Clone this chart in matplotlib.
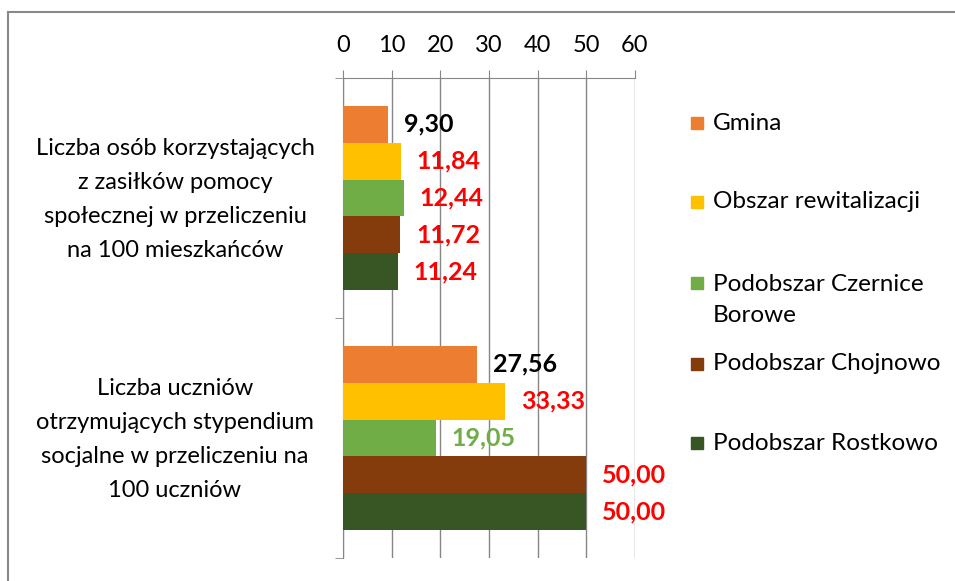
import numpy as np
from matplotlib import pyplot as plt
from matplotlib.patches import Rectangle
from matplotlib.lines import Line2D
from matplotlib.transforms import ScaledTranslation

plt.rcParams['font.family'] = ['Lato', 'DejaVu Sans']

categories = ["Liczba osób korzystających\nz zasiłków pomocy\nspołecznej w przeliczeniu\nna 100 mieszkańców",
              "Liczba uczniów\notrzymujących stypendium\nsocjalne w przeliczeniu na\n100 uczniów"]
series = ["Gmina", "Obszar rewitalizacji", "Podobszar Czernice\nBorowe",
          "Podobszar Chojnowo", "Podobszar Rostkowo"]
gmina = [9.30, 27.56]
obszar = [11.84, 33.33]
czernice = [12.44, 19.05]
chojnowo = [11.72, 50.00]
rostkowo = [11.24, 50.00]
values = [gmina, obszar, czernice, chojnowo, rostkowo]

colors = ["#ED7D31", "#FFC000", "#70AD47", "#843C0C", "#375623"]
label_colors = [["black", "black"], ["#FF0000", "#FF0000"], ["#FF0000", "#70AD47"],
                ["#FF0000", "#FF0000"], ["#FF0000", "#FF0000"]]

fig = plt.figure(figsize=(9.55, 5.81), dpi=100)
ax = fig.add_axes([343/955, 1-558/581, (635-343)/955, (558-78)/581])

hh = 0.1533
y0 = np.arange(len(categories))
for i, (vals, c) in enumerate(zip(values, colors)):
    ypos = y0 - 2*hh + i*hh
    ax.barh(ypos, vals, height=hh, color=c, zorder=3)
    for y, v, lc in zip(ypos, vals, label_colors[i]):
        ax.annotate(f"{v:.2f}".replace(".", ","), (v, y), xytext=(11.5, 0),
                    textcoords="offset points", va="center", ha="left",
                    fontsize=18, fontweight="bold", color=lc)

ax.set_xlim(0, 60)
ax.set_ylim(1.5, -0.5)
ax.set_xticks(np.arange(0, 61, 10))
ax.xaxis.tick_top()
ax.tick_params(axis="x", length=6, color="#868686", labelsize=17, pad=10)
ax.grid(axis="x", color="#868686", linewidth=1, zorder=0)

ax.set_yticks(y0)
ax.set_yticklabels(categories, ha="center", ma="center", fontsize=17, linespacing=1.75)
ax.tick_params(axis="y", length=0, pad=121)
ax.set_yticks([-0.5, 0.5, 1.5], minor=True)
ax.tick_params(axis="y", which="minor", length=6, color="#868686")
for lbl in ax.get_yticklabels():
    lbl.set_transform(lbl.get_transform() + ScaledTranslation(0, 5/72, fig.dpi_scale_trans))

for s in ["right", "bottom"]:
    ax.spines[s].set_visible(False)
for s in ["top", "left"]:
    ax.spines[s].set_color("#868686")

# legend
leg_y = [123, 202, 283, 364, 443]
for name, c, ly in zip(series, colors, leg_y):
    fig.patches.append(Rectangle((691/955, 1-(ly+6)/581), 12/955, 12/581,
                                 transform=fig.transFigure, color=c, figure=fig))
    if "\n" in name:
        fig.text(713/955, 1-(ly-9)/581, name, fontsize=17.5, va="top", linespacing=1.6)
    else:
        fig.text(713/955, 1-ly/581, name, fontsize=17.5, va="center")

# frame
fig.add_artist(Line2D([7.5/955, 1], [1-11.5/581]*2, color="#898989", lw=1.5, transform=fig.transFigure))
fig.add_artist(Line2D([7.5/955]*2, [0, 1-11.5/581], color="#898989", lw=1.5, transform=fig.transFigure))

plt.savefig("out.png")
